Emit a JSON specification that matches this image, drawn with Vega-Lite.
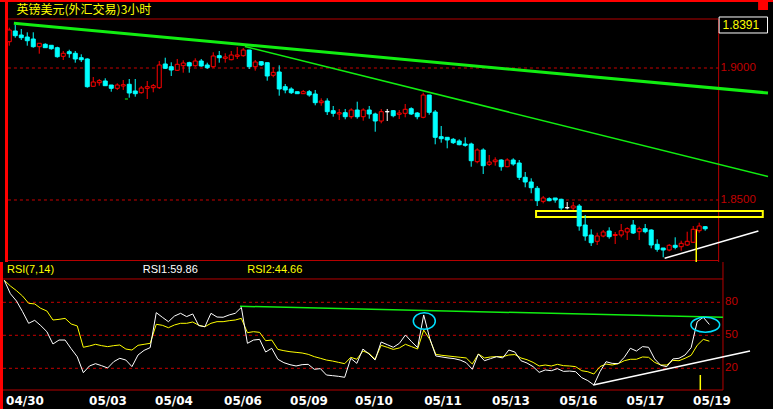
{
"$schema": "https://vega.github.io/schema/vega-lite/v6.json",
"background": "#000000",
"padding": 0,
"spacing": 0,
"bounds": "flush",
"config": {"view": {"stroke": null}},
"datasets": {
"b": [
{"i":1,"o":1.90996,"h":1.91527,"l":1.90845,"c":1.91439,"r1":100,"r2":100},
{"i":2,"o":1.91402,"h":1.91629,"l":1.91148,"c":1.91224,"r1":87.8,"r2":94.8},
{"i":3,"o":1.91250,"h":1.91477,"l":1.91061,"c":1.91148,"r1":81.2,"r2":90.6},
{"i":4,"o":1.91174,"h":1.91352,"l":1.90845,"c":1.91034,"r1":71.5,"r2":85.7},
{"i":5,"o":1.91099,"h":1.91352,"l":1.90769,"c":1.90807,"r1":60.9,"r2":79.1},
{"i":6,"o":1.90807,"h":1.90936,"l":1.90542,"c":1.90936,"r1":63.6,"r2":78.5},
{"i":7,"o":1.90898,"h":1.90936,"l":1.90769,"c":1.90769,"r1":58.8,"r2":74.5},
{"i":8,"o":1.90860,"h":1.90860,"l":1.90693,"c":1.90731,"r1":53.3,"r2":72.1},
{"i":9,"o":1.90769,"h":1.90807,"l":1.90390,"c":1.90428,"r1":42.1,"r2":63.9},
{"i":10,"o":1.90443,"h":1.90644,"l":1.90303,"c":1.90557,"r1":45.7,"r2":64.5},
{"i":11,"o":1.90617,"h":1.90693,"l":1.90390,"c":1.90542,"r1":45.7,"r2":65.4},
{"i":12,"o":1.90557,"h":1.90644,"l":1.90201,"c":1.90341,"r1":37.8,"r2":60.3},
{"i":13,"o":1.90390,"h":1.90519,"l":1.90227,"c":1.90314,"r1":30.5,"r2":58.5},
{"i":14,"o":1.90341,"h":1.90367,"l":1.89254,"c":1.89292,"r1":16.0,"r2":39.1},
{"i":15,"o":1.89307,"h":1.89659,"l":1.89307,"c":1.89470,"r1":22.1,"r2":40.3},
{"i":16,"o":1.89443,"h":1.89583,"l":1.89330,"c":1.89519,"r1":24.2,"r2":41.8},
{"i":17,"o":1.89508,"h":1.89610,"l":1.89330,"c":1.89330,"r1":22.4,"r2":40.6},
{"i":18,"o":1.89356,"h":1.89356,"l":1.89102,"c":1.89231,"r1":20.3,"r2":39.7},
{"i":19,"o":1.89231,"h":1.89420,"l":1.89167,"c":1.89356,"r1":26.0,"r2":40.6},
{"i":20,"o":1.89318,"h":1.89545,"l":1.89167,"c":1.89367,"r1":29.1,"r2":41.2},
{"i":21,"o":1.89383,"h":1.89583,"l":1.88875,"c":1.89053,"r1":27.5,"r2":37.5},
{"i":22,"o":1.89129,"h":1.89583,"l":1.88913,"c":1.89027,"r1":21.5,"r2":36.6},
{"i":23,"o":1.89064,"h":1.89318,"l":1.89027,"c":1.89242,"r1":32.1,"r2":40.9},
{"i":24,"o":1.89231,"h":1.89508,"l":1.88826,"c":1.89292,"r1":36.3,"r2":41.8},
{"i":25,"o":1.89254,"h":1.89394,"l":1.89080,"c":1.89330,"r1":38.8,"r2":42.7},
{"i":26,"o":1.89254,"h":1.90265,"l":1.89205,"c":1.90114,"r1":70.6,"r2":60.0},
{"i":27,"o":1.90152,"h":1.90390,"l":1.89962,"c":1.89989,"r1":66.4,"r2":59.1},
{"i":28,"o":1.90049,"h":1.90216,"l":1.89697,"c":1.89924,"r1":62.4,"r2":56.9},
{"i":29,"o":1.89913,"h":1.90341,"l":1.89886,"c":1.90140,"r1":67.5,"r2":59.4},
{"i":30,"o":1.90087,"h":1.90292,"l":1.89822,"c":1.90189,"r1":70.0,"r2":60.9},
{"i":31,"o":1.90201,"h":1.90239,"l":1.89822,"c":1.90076,"r1":67.0,"r2":60.9},
{"i":32,"o":1.90087,"h":1.90367,"l":1.90049,"c":1.90265,"r1":69.4,"r2":62.1},
{"i":33,"o":1.90265,"h":1.90341,"l":1.90049,"c":1.90076,"r1":58.8,"r2":59.1},
{"i":34,"o":1.90114,"h":1.90201,"l":1.89962,"c":1.90011,"r1":57.8,"r2":57.8},
{"i":35,"o":1.90049,"h":1.90595,"l":1.90011,"c":1.90455,"r1":70.0,"r2":60.9},
{"i":36,"o":1.90466,"h":1.90644,"l":1.90201,"c":1.90390,"r1":66.6,"r2":62.4},
{"i":37,"o":1.90367,"h":1.90557,"l":1.90201,"c":1.90417,"r1":66.4,"r2":62.4},
{"i":38,"o":1.90314,"h":1.90644,"l":1.90292,"c":1.90492,"r1":68.5,"r2":63.3},
{"i":39,"o":1.90443,"h":1.90795,"l":1.90341,"c":1.90492,"r1":70.0,"r2":63.9},
{"i":40,"o":1.90466,"h":1.90758,"l":1.90428,"c":1.90682,"r1":75.4,"r2":65.4},
{"i":41,"o":1.90682,"h":1.90682,"l":1.89962,"c":1.90049,"r1":42.7,"r2":52.4},
{"i":42,"o":1.90049,"h":1.90303,"l":1.89898,"c":1.90227,"r1":45.7,"r2":53.3},
{"i":43,"o":1.90239,"h":1.90265,"l":1.90076,"c":1.90114,"r1":46.3,"r2":52.7},
{"i":44,"o":1.90201,"h":1.90201,"l":1.89519,"c":1.89697,"r1":34.8,"r2":45.1},
{"i":45,"o":1.89724,"h":1.90027,"l":1.89648,"c":1.89837,"r1":38.2,"r2":45.7},
{"i":46,"o":1.89849,"h":1.90102,"l":1.88951,"c":1.89205,"r1":28.2,"r2":37.2},
{"i":47,"o":1.89292,"h":1.89394,"l":1.89042,"c":1.89167,"r1":25.1,"r2":36.0},
{"i":48,"o":1.89205,"h":1.89269,"l":1.89015,"c":1.89064,"r1":23.3,"r2":35.1},
{"i":49,"o":1.89102,"h":1.89102,"l":1.89027,"c":1.89027,"r1":22.1,"r2":34.5},
{"i":50,"o":1.89027,"h":1.89167,"l":1.89015,"c":1.89102,"r1":23.3,"r2":33.9},
{"i":51,"o":1.89102,"h":1.89167,"l":1.88913,"c":1.88977,"r1":23.6,"r2":32.7},
{"i":52,"o":1.89015,"h":1.89167,"l":1.88587,"c":1.88686,"r1":19.1,"r2":30.6},
{"i":53,"o":1.88686,"h":1.88852,"l":1.88572,"c":1.88750,"r1":19.7,"r2":29.1},
{"i":54,"o":1.88750,"h":1.88852,"l":1.88220,"c":1.88345,"r1":13.9,"r2":27.5},
{"i":55,"o":1.88383,"h":1.88561,"l":1.88155,"c":1.88284,"r1":13.3,"r2":26.6},
{"i":56,"o":1.88258,"h":1.88447,"l":1.88030,"c":1.88307,"r1":12.7,"r2":25.4},
{"i":57,"o":1.88307,"h":1.88447,"l":1.88057,"c":1.88155,"r1":11.8,"r2":24.2},
{"i":58,"o":1.88155,"h":1.88474,"l":1.88080,"c":1.88409,"r1":29.1,"r2":30.0},
{"i":59,"o":1.88409,"h":1.88724,"l":1.88080,"c":1.88155,"r1":24.5,"r2":28.2},
{"i":60,"o":1.88155,"h":1.88474,"l":1.88004,"c":1.88409,"r1":37.5,"r2":35.7},
{"i":61,"o":1.88409,"h":1.88561,"l":1.88080,"c":1.88258,"r1":33.0,"r2":33.6},
{"i":62,"o":1.88258,"h":1.88307,"l":1.87587,"c":1.87992,"r1":27.5,"r2":28.2},
{"i":63,"o":1.87992,"h":1.88447,"l":1.87905,"c":1.88345,"r1":43.9,"r2":40.9},
{"i":64,"o":1.88345,"h":1.88447,"l":1.87992,"c":1.88345,"r1":41.5,"r2":39.1},
{"i":65,"o":1.88383,"h":1.88409,"l":1.88133,"c":1.88193,"r1":39.1,"r2":37.2},
{"i":66,"o":1.88246,"h":1.88409,"l":1.88068,"c":1.88295,"r1":42.7,"r2":38.5},
{"i":67,"o":1.88284,"h":1.88636,"l":1.88133,"c":1.88436,"r1":50.3,"r2":41.8},
{"i":68,"o":1.88458,"h":1.88511,"l":1.88220,"c":1.88258,"r1":44.2,"r2":39.7},
{"i":69,"o":1.88295,"h":1.88333,"l":1.88057,"c":1.88155,"r1":38.8,"r2":37.5},
{"i":70,"o":1.88133,"h":1.89064,"l":1.88095,"c":1.88977,"r1":68.5,"r2":54.8},
{"i":71,"o":1.88977,"h":1.88977,"l":1.88231,"c":1.88322,"r1":47.2,"r2":46.3},
{"i":72,"o":1.88333,"h":1.88409,"l":1.87110,"c":1.87375,"r1":31.2,"r2":32.7},
{"i":73,"o":1.87398,"h":1.87803,"l":1.87171,"c":1.87322,"r1":30.3,"r2":31.8},
{"i":74,"o":1.87375,"h":1.87375,"l":1.86958,"c":1.87273,"r1":29.4,"r2":31.2},
{"i":75,"o":1.87299,"h":1.87349,"l":1.87121,"c":1.87171,"r1":28.8,"r2":30.6},
{"i":76,"o":1.87235,"h":1.87299,"l":1.87072,"c":1.87095,"r1":27.5,"r2":30.0},
{"i":77,"o":1.87121,"h":1.87375,"l":1.87019,"c":1.87072,"r1":25.1,"r2":29.4},
{"i":78,"o":1.87121,"h":1.87171,"l":1.86261,"c":1.86489,"r1":19.1,"r2":23.9},
{"i":79,"o":1.86451,"h":1.86958,"l":1.86390,"c":1.86894,"r1":33.0,"r2":33.0},
{"i":80,"o":1.86894,"h":1.86958,"l":1.85985,"c":1.86299,"r1":26.9,"r2":29.4},
{"i":81,"o":1.86352,"h":1.86705,"l":1.86288,"c":1.86439,"r1":28.8,"r2":30.3},
{"i":82,"o":1.86451,"h":1.86617,"l":1.86299,"c":1.86515,"r1":30.6,"r2":30.6},
{"i":83,"o":1.86515,"h":1.86542,"l":1.86110,"c":1.86261,"r1":29.4,"r2":30.6},
{"i":84,"o":1.86261,"h":1.86580,"l":1.86239,"c":1.86515,"r1":36.6,"r2":32.1},
{"i":85,"o":1.86515,"h":1.86580,"l":1.86299,"c":1.86364,"r1":34.8,"r2":32.5},
{"i":86,"o":1.86402,"h":1.86515,"l":1.85758,"c":1.85860,"r1":26.9,"r2":29.4},
{"i":87,"o":1.85860,"h":1.86061,"l":1.85481,"c":1.85682,"r1":24.8,"r2":27.8},
{"i":88,"o":1.85682,"h":1.85822,"l":1.85254,"c":1.85466,"r1":21.5,"r2":25.4},
{"i":89,"o":1.85443,"h":1.85530,"l":1.84773,"c":1.84974,"r1":16.3,"r2":22.1},
{"i":90,"o":1.84951,"h":1.85152,"l":1.84875,"c":1.85076,"r1":18.5,"r2":23.0},
{"i":91,"o":1.85049,"h":1.85102,"l":1.84951,"c":1.84974,"r1":17.8,"r2":22.1},
{"i":92,"o":1.85076,"h":1.85076,"l":1.84898,"c":1.85000,"r1":19.7,"r2":23.6},
{"i":93,"o":1.85027,"h":1.85049,"l":1.84621,"c":1.84697,"r1":17.2,"r2":22.4},
{"i":94,"o":1.84708,"h":1.84924,"l":1.84648,"c":1.84708,"r1":17.5,"r2":22.1},
{"i":95,"o":1.84697,"h":1.84924,"l":1.84621,"c":1.84773,"r1":16.9,"r2":21.5},
{"i":96,"o":1.84773,"h":1.84848,"l":1.83837,"c":1.84015,"r1":11.5,"r2":17.8},
{"i":97,"o":1.84053,"h":1.84432,"l":1.83458,"c":1.83636,"r1":8.8,"r2":16.9},
{"i":98,"o":1.83674,"h":1.83890,"l":1.83258,"c":1.83383,"r1":4.8,"r2":14.8},
{"i":99,"o":1.83436,"h":1.83761,"l":1.83295,"c":1.83636,"r1":16.9,"r2":21.5},
{"i":100,"o":1.83636,"h":1.83864,"l":1.83587,"c":1.83788,"r1":26.0,"r2":23.9},
{"i":101,"o":1.83826,"h":1.83966,"l":1.83534,"c":1.83610,"r1":24.5,"r2":23.0},
{"i":102,"o":1.83655,"h":1.83788,"l":1.83333,"c":1.83693,"r1":24.2,"r2":24.2},
{"i":103,"o":1.83674,"h":1.84091,"l":1.83587,"c":1.83837,"r1":30.0,"r2":26.9},
{"i":104,"o":1.83788,"h":1.83966,"l":1.83485,"c":1.83913,"r1":38.2,"r2":28.2},
{"i":105,"o":1.84053,"h":1.84242,"l":1.83712,"c":1.83750,"r1":35.7,"r2":28.2},
{"i":106,"o":1.83799,"h":1.83989,"l":1.83485,"c":1.83913,"r1":39.7,"r2":30.3},
{"i":107,"o":1.83913,"h":1.84091,"l":1.83739,"c":1.83799,"r1":39.1,"r2":30.0},
{"i":108,"o":1.83864,"h":1.83890,"l":1.83170,"c":1.83295,"r1":28.5,"r2":25.4},
{"i":109,"o":1.83322,"h":1.83511,"l":1.83042,"c":1.83133,"r1":22.7,"r2":23.0},
{"i":110,"o":1.83182,"h":1.83182,"l":1.82830,"c":1.83106,"r1":21.5,"r2":23.0},
{"i":111,"o":1.83106,"h":1.83333,"l":1.83057,"c":1.83284,"r1":28.5,"r2":27.2},
{"i":112,"o":1.83284,"h":1.83587,"l":1.83133,"c":1.83208,"r1":29.1,"r2":26.9},
{"i":113,"o":1.83231,"h":1.83458,"l":1.83080,"c":1.83360,"r1":32.1,"r2":29.1},
{"i":114,"o":1.83295,"h":1.83799,"l":1.83258,"c":1.83436,"r1":38.8,"r2":31.8},
{"i":115,"o":1.83398,"h":1.84015,"l":1.83383,"c":1.83890,"r1":62.4,"r2":40.9},
{"i":116,"o":1.83837,"h":1.84140,"l":1.83761,"c":1.84015,"r1":66.4,"r2":46.3},
{"i":117,"o":1.83989,"h":1.84015,"l":1.83837,"c":1.83910,"r1":59.86,"r2":44.66}
]
},
"vconcat": [
{
"width": 773, "height": 262,
"layer": [
{"data": {"values": [{"i": 0.54}]}, "mark": {"type": "rule", "color": "#ff0000", "strokeWidth": 3, "clip": true},
 "encoding": {"x": {"field": "i", "type": "quantitative", "scale": {"domain": [0.29, 127.47], "nice": false, "zero": false}, "axis": null}}},
{"data": {"values": [{"p": 1.92538}]}, "mark": {"type": "rule", "color": "#ff0000", "strokeWidth": 2, "clip": true},
 "encoding": {"y": {"field": "p", "type": "quantitative", "scale": {"domain": [1.826515, 1.925758], "nice": false, "zero": false}, "axis": null}}},
{"data": {"values": [{"i": 125.82, "i2": 127.47, "p": 1.925, "p2": 1.92197}]}, "mark": {"type": "rect", "color": "#ff0000", "clip": true},
 "encoding": {"x": {"field": "i", "type": "quantitative", "scale": {"domain": [0.29, 127.47], "nice": false, "zero": false}, "axis": null}, "x2": {"field": "i2"},
  "y": {"field": "p", "type": "quantitative", "scale": {"domain": [1.826515, 1.925758], "nice": false, "zero": false}, "axis": null}, "y2": {"field": "p2"}}},
{"data": {"values": [{"i": 0.78, "i2": 119.24, "p": 1.91856}, {"i": 0.78, "i2": 119.24, "p": 1.82708}]}, "mark": {"type": "rule", "color": "#b40000", "strokeWidth": 1},
 "encoding": {"x": {"field": "i", "type": "quantitative", "scale": {"domain": [0.29, 127.47], "nice": false, "zero": false}, "axis": null}, "x2": {"field": "i2"},
  "y": {"field": "p", "type": "quantitative", "scale": {"domain": [1.826515, 1.925758], "nice": false, "zero": false}, "axis": null}}},
{"data": {"values": [{"i": 119.24, "p": 1.91856, "p2": 1.826515}]}, "mark": {"type": "rule", "color": "#b40000", "strokeWidth": 1},
 "encoding": {"x": {"field": "i", "type": "quantitative", "scale": {"domain": [0.29, 127.47], "nice": false, "zero": false}, "axis": null},
  "y": {"field": "p", "type": "quantitative", "scale": {"domain": [1.826515, 1.925758], "nice": false, "zero": false}, "axis": null}, "y2": {"field": "p2"}}},
{"data": {"values": [{"i": 0.78, "i2": 119.24, "p": 1.9}, {"i": 0.78, "i2": 119.24, "p": 1.85}]}, "mark": {"type": "rule", "color": "#c80000", "strokeWidth": 1, "strokeDash": [3, 3]},
 "encoding": {"x": {"field": "i", "type": "quantitative", "scale": {"domain": [0.29, 127.47], "nice": false, "zero": false}, "axis": null}, "x2": {"field": "i2"},
  "y": {"field": "p", "type": "quantitative", "scale": {"domain": [1.826515, 1.925758], "nice": false, "zero": false}, "axis": null}}},
{"data": {"values": [{"i": 119.32, "i2": 127.39, "p": 1.91932, "p2": 1.91326}]}, "mark": {"type": "rect", "fill": "#000000", "stroke": "#ffffff", "strokeWidth": 1, "clip": true},
 "encoding": {"x": {"field": "i", "type": "quantitative", "scale": {"domain": [0.29, 127.47], "nice": false, "zero": false}, "axis": null}, "x2": {"field": "i2"},
  "y": {"field": "p", "type": "quantitative", "scale": {"domain": [1.826515, 1.925758], "nice": false, "zero": false}, "axis": null}, "y2": {"field": "p2"}}},
{"data": {"values": [{"i": 122.94, "p": 1.91629, "t": "1.8391"}]}, "mark": {"type": "text", "color": "#ffff00", "font": "Liberation Sans", "fontSize": 12, "align": "center", "baseline": "middle"},
 "encoding": {"x": {"field": "i", "type": "quantitative", "scale": {"domain": [0.29, 127.47], "nice": false, "zero": false}, "axis": null},
  "y": {"field": "p", "type": "quantitative", "scale": {"domain": [1.826515, 1.925758], "nice": false, "zero": false}, "axis": null}, "text": {"field": "t"}}},
{"data": {"values": [{"i": 119.57, "p": 1.9, "t": "1.9000"}, {"i": 119.57, "p": 1.85, "t": "1.8500"}]}, "mark": {"type": "text", "color": "#c00000", "font": "Liberation Sans", "fontSize": 11.5, "align": "left", "baseline": "middle"},
 "encoding": {"x": {"field": "i", "type": "quantitative", "scale": {"domain": [0.29, 127.47], "nice": false, "zero": false}, "axis": null},
  "y": {"field": "p", "type": "quantitative", "scale": {"domain": [1.826515, 1.925758], "nice": false, "zero": false}, "axis": null}, "text": {"field": "t"}}},
{"data": {"values": [{"i": 2.21, "p": 1.92197, "t": "英镑美元(外汇交易)3小时"}]}, "mark": {"type": "text", "color": "#ffff00", "font": "Noto Sans CJK SC", "fontSize": 12, "align": "left", "baseline": "middle"},
 "encoding": {"x": {"field": "i", "type": "quantitative", "scale": {"domain": [0.29, 127.47], "nice": false, "zero": false}, "axis": null},
  "y": {"field": "p", "type": "quantitative", "scale": {"domain": [1.826515, 1.925758], "nice": false, "zero": false}, "axis": null}, "text": {"field": "t"}}},
{"data": {"values": [{"i": 1.77, "p": 1.91693}, {"i": 127.47, "p": 1.89053}]}, "mark": {"type": "line", "color": "#11ee11", "strokeWidth": 3, "clip": true},
 "encoding": {"x": {"field": "i", "type": "quantitative", "scale": {"domain": [0.29, 127.47], "nice": false, "zero": false}, "axis": null},
  "y": {"field": "p", "type": "quantitative", "scale": {"domain": [1.826515, 1.925758], "nice": false, "zero": false}, "axis": null}}},
{"data": {"values": [{"i": 40.27, "p": 1.90814}, {"i": 127.47, "p": 1.8589}]}, "mark": {"type": "line", "color": "#11ee11", "strokeWidth": 1.5, "clip": true},
 "encoding": {"x": {"field": "i", "type": "quantitative", "scale": {"domain": [0.29, 127.47], "nice": false, "zero": false}, "axis": null},
  "y": {"field": "p", "type": "quantitative", "scale": {"domain": [1.826515, 1.925758], "nice": false, "zero": false}, "axis": null}}},
{"data": {"values": [{"i": 88.81, "i2": 126.6, "p": 1.84583, "p2": 1.84356}]}, "mark": {"type": "rect", "fillOpacity": 0, "stroke": "#ffff00", "strokeWidth": 2, "clip": true},
 "encoding": {"x": {"field": "i", "type": "quantitative", "scale": {"domain": [0.29, 127.47], "nice": false, "zero": false}, "axis": null}, "x2": {"field": "i2"},
  "y": {"field": "p", "type": "quantitative", "scale": {"domain": [1.826515, 1.925758], "nice": false, "zero": false}, "axis": null}, "y2": {"field": "p2"}}},
{"data": {"values": [{"i": 110.24, "p": 1.82792}, {"i": 125.87, "p": 1.83826}]}, "mark": {"type": "line", "color": "#ffffff", "strokeWidth": 1.5},
 "encoding": {"x": {"field": "i", "type": "quantitative", "scale": {"domain": [0.29, 127.47], "nice": false, "zero": false}, "axis": null},
  "y": {"field": "p", "type": "quantitative", "scale": {"domain": [1.826515, 1.925758], "nice": false, "zero": false}, "axis": null}}},
{"data": {"values": [{"i": 115.51, "p": 1.8389, "p2": 1.826515}]}, "mark": {"type": "rule", "color": "#ffff00", "strokeWidth": 1.5},
 "encoding": {"x": {"field": "i", "type": "quantitative", "scale": {"domain": [0.29, 127.47], "nice": false, "zero": false}, "axis": null},
  "y": {"field": "p", "type": "quantitative", "scale": {"domain": [1.826515, 1.925758], "nice": false, "zero": false}, "axis": null}, "y2": {"field": "p2"}}},
{"data": {"name": "b"}, "mark": {"type": "rule", "strokeWidth": 1},
 "encoding": {"x": {"field": "i", "type": "quantitative", "scale": {"domain": [0.29, 127.47], "nice": false, "zero": false}, "axis": null},
  "y": {"field": "l", "type": "quantitative", "scale": {"domain": [1.826515, 1.925758], "nice": false, "zero": false}, "axis": null}, "y2": {"field": "h"},
  "color": {"condition": [{"test": "datum.c > datum.o", "value": "#ff0000"}, {"test": "datum.c < datum.o", "value": "#00ffff"}], "value": "#ffffff"}}},
{"data": {"name": "b"}, "mark": {"type": "bar", "width": 4, "strokeWidth": 1},
 "encoding": {"x": {"field": "i", "type": "quantitative", "scale": {"domain": [0.29, 127.47], "nice": false, "zero": false}, "axis": null},
  "y": {"field": "o", "type": "quantitative", "scale": {"domain": [1.826515, 1.925758], "nice": false, "zero": false}, "axis": null}, "y2": {"field": "c"},
  "stroke": {"condition": [{"test": "datum.c > datum.o", "value": "#ff0000"}, {"test": "datum.c < datum.o", "value": "#00ffff"}], "value": "#ffffff"},
  "fill": {"condition": [{"test": "datum.c > datum.o", "value": "#000000"}, {"test": "datum.c < datum.o", "value": "#00ffff"}], "value": "#ffffff"}}},
{"data": {"values": [{"i": 20.53, "p": 1.88826}]}, "mark": {"type": "point", "shape": "stroke", "size": 9, "color": "#11ee11", "strokeWidth": 1.5},
 "encoding": {"x": {"field": "i", "type": "quantitative", "scale": {"domain": [0.29, 127.47], "nice": false, "zero": false}, "axis": null},
  "y": {"field": "p", "type": "quantitative", "scale": {"domain": [1.826515, 1.925758], "nice": false, "zero": false}, "axis": null}}}
]
},
{
"width": 773, "height": 147,
"layer": [
{"data": {"values": [{"i": 0.54}]}, "mark": {"type": "rule", "color": "#ff0000", "strokeWidth": 3, "clip": true},
 "encoding": {"x": {"field": "i", "type": "quantitative", "scale": {"domain": [0.29, 127.47], "nice": false, "zero": false}, "axis": null}}},
{"data": {"values": [{"i": 0.78, "i2": 119.24, "r": 101.2}, {"i": 0.78, "i2": 119.24, "r": 0.27}]}, "mark": {"type": "rule", "color": "#b40000", "strokeWidth": 1},
 "encoding": {"x": {"field": "i", "type": "quantitative", "scale": {"domain": [0.29, 127.47], "nice": false, "zero": false}, "axis": null}, "x2": {"field": "i2"},
  "y": {"field": "r", "type": "quantitative", "scale": {"domain": [-17, 116.64], "nice": false, "zero": false}, "axis": null}}},
{"data": {"values": [{"i": 119.24, "r": 116.64, "r2": 0.27}]}, "mark": {"type": "rule", "color": "#b40000", "strokeWidth": 1},
 "encoding": {"x": {"field": "i", "type": "quantitative", "scale": {"domain": [0.29, 127.47], "nice": false, "zero": false}, "axis": null},
  "y": {"field": "r", "type": "quantitative", "scale": {"domain": [-17, 116.64], "nice": false, "zero": false}, "axis": null}, "y2": {"field": "r2"}}},
{"data": {"values": [{"i": 0.78, "i2": 119.24, "r": 80}, {"i": 0.78, "i2": 119.24, "r": 50}, {"i": 0.78, "i2": 119.24, "r": 20}]}, "mark": {"type": "rule", "color": "#c80000", "strokeWidth": 1, "strokeDash": [3, 3]},
 "encoding": {"x": {"field": "i", "type": "quantitative", "scale": {"domain": [0.29, 127.47], "nice": false, "zero": false}, "axis": null}, "x2": {"field": "i2"},
  "y": {"field": "r", "type": "quantitative", "scale": {"domain": [-17, 116.64], "nice": false, "zero": false}, "axis": null}}},
{"data": {"values": [{"i": 119.57, "r": 80, "t": "80"}, {"i": 119.57, "r": 50, "t": "50"}, {"i": 119.57, "r": 20, "t": "20"}]}, "mark": {"type": "text", "color": "#c00000", "font": "Liberation Sans", "fontSize": 11.5, "align": "left", "baseline": "middle"},
 "encoding": {"x": {"field": "i", "type": "quantitative", "scale": {"domain": [0.29, 127.47], "nice": false, "zero": false}, "axis": null},
  "y": {"field": "r", "type": "quantitative", "scale": {"domain": [-17, 116.64], "nice": false, "zero": false}, "axis": null}, "text": {"field": "t"}}},
{"data": {"values": [{"i": 1.44, "r": 109.6, "t": "RSI(7,14)"}, {"i": 40.98, "r": 109.6, "t": "RSI2:44.66"}]}, "mark": {"type": "text", "color": "#ffff00", "font": "Liberation Sans", "fontSize": 11, "align": "left", "baseline": "middle"},
 "encoding": {"x": {"field": "i", "type": "quantitative", "scale": {"domain": [0.29, 127.47], "nice": false, "zero": false}, "axis": null},
  "y": {"field": "r", "type": "quantitative", "scale": {"domain": [-17, 116.64], "nice": false, "zero": false}, "axis": null}, "text": {"field": "t"}}},
{"data": {"values": [{"i": 23.77, "r": 109.6, "t": "RSI1:59.86"}]}, "mark": {"type": "text", "color": "#ffffff", "font": "Liberation Sans", "fontSize": 11, "align": "left", "baseline": "middle"},
 "encoding": {"x": {"field": "i", "type": "quantitative", "scale": {"domain": [0.29, 127.47], "nice": false, "zero": false}, "axis": null},
  "y": {"field": "r", "type": "quantitative", "scale": {"domain": [-17, 116.64], "nice": false, "zero": false}, "axis": null}, "text": {"field": "t"}}},
{"data": {"values": [{"i": 39.78, "r": 76.4}, {"i": 119.24, "r": 66.4}]}, "mark": {"type": "line", "color": "#11ee11", "strokeWidth": 1.5},
 "encoding": {"x": {"field": "i", "type": "quantitative", "scale": {"domain": [0.29, 127.47], "nice": false, "zero": false}, "axis": null},
  "y": {"field": "r", "type": "quantitative", "scale": {"domain": [-17, 116.64], "nice": false, "zero": false}, "axis": null}}},
{"data": {"values": [{"i": 97.9, "r": 4.8}, {"i": 123.69, "r": 35.7}]}, "mark": {"type": "line", "color": "#ffffff", "strokeWidth": 1.5},
 "encoding": {"x": {"field": "i", "type": "quantitative", "scale": {"domain": [0.29, 127.47], "nice": false, "zero": false}, "axis": null},
  "y": {"field": "r", "type": "quantitative", "scale": {"domain": [-17, 116.64], "nice": false, "zero": false}, "axis": null}}},
{"data": {"name": "b"}, "mark": {"type": "line", "color": "#ffff00", "strokeWidth": 1},
 "encoding": {"x": {"field": "i", "type": "quantitative", "scale": {"domain": [0.29, 127.47], "nice": false, "zero": false}, "axis": null},
  "y": {"field": "r2", "type": "quantitative", "scale": {"domain": [-17, 116.64], "nice": false, "zero": false}, "axis": null}}},
{"data": {"name": "b"}, "mark": {"type": "line", "color": "#ffffff", "strokeWidth": 1},
 "encoding": {"x": {"field": "i", "type": "quantitative", "scale": {"domain": [0.29, 127.47], "nice": false, "zero": false}, "axis": null},
  "y": {"field": "r1", "type": "quantitative", "scale": {"domain": [-17, 116.64], "nice": false, "zero": false}, "axis": null}}},
{"data": {"values": [{"i": 70.1, "r": 63.0}]}, "mark": {"type": "point", "shape": "M-1,0A1,0.76 0 1,1 1,0A1,0.76 0 1,1 -1,0Z", "size": 484, "filled": false, "color": "#00e0ff", "strokeWidth": 1.5, "opacity": 1},
 "encoding": {"x": {"field": "i", "type": "quantitative", "scale": {"domain": [0.29, 127.47], "nice": false, "zero": false}, "axis": null},
  "y": {"field": "r", "type": "quantitative", "scale": {"domain": [-17, 116.64], "nice": false, "zero": false}, "axis": null}}},
{"data": {"values": [{"i": 116.33, "r": 59.6}]}, "mark": {"type": "point", "shape": "M-1,0A1,0.52 0 1,1 1,0A1,0.52 0 1,1 -1,0Z", "size": 824, "filled": false, "color": "#00e0ff", "strokeWidth": 1.5, "opacity": 1},
 "encoding": {"x": {"field": "i", "type": "quantitative", "scale": {"domain": [0.29, 127.47], "nice": false, "zero": false}, "axis": null},
  "y": {"field": "r", "type": "quantitative", "scale": {"domain": [-17, 116.64], "nice": false, "zero": false}, "axis": null}}},
{"data": {"values": [{"i": 115.51, "r": 13.9, "r2": 0.27}]}, "mark": {"type": "rule", "color": "#ffff00", "strokeWidth": 1.5},
 "encoding": {"x": {"field": "i", "type": "quantitative", "scale": {"domain": [0.29, 127.47], "nice": false, "zero": false}, "axis": null},
  "y": {"field": "r", "type": "quantitative", "scale": {"domain": [-17, 116.64], "nice": false, "zero": false}, "axis": null}, "y2": {"field": "r2"}}},
{"data": {"values": [
 {"i": 4.40, "t": "04/30"}, {"i": 18.06, "t": "05/03"}, {"i": 28.92, "t": "05/04"}, {"i": 40.27, "t": "05/06"},
 {"i": 51.13, "t": "05/09"}, {"i": 61.82, "t": "05/10"}, {"i": 73.18, "t": "05/11"}, {"i": 84.36, "t": "05/13"},
 {"i": 95.47, "t": "05/16"}, {"i": 106.49, "t": "05/17"}, {"i": 117.43, "t": "05/19"}]},
 "mark": {"type": "text", "color": "#ffffff", "font": "DejaVu Sans", "fontWeight": "bold", "fontSize": 12, "align": "center", "baseline": "middle"},
 "encoding": {"x": {"field": "i", "type": "quantitative", "scale": {"domain": [0.29, 127.47], "nice": false, "zero": false}, "axis": null},
  "y": {"datum": -10, "type": "quantitative", "scale": {"domain": [-17, 116.64], "nice": false, "zero": false}, "axis": null}, "text": {"field": "t"}}}
]
}
]
}
